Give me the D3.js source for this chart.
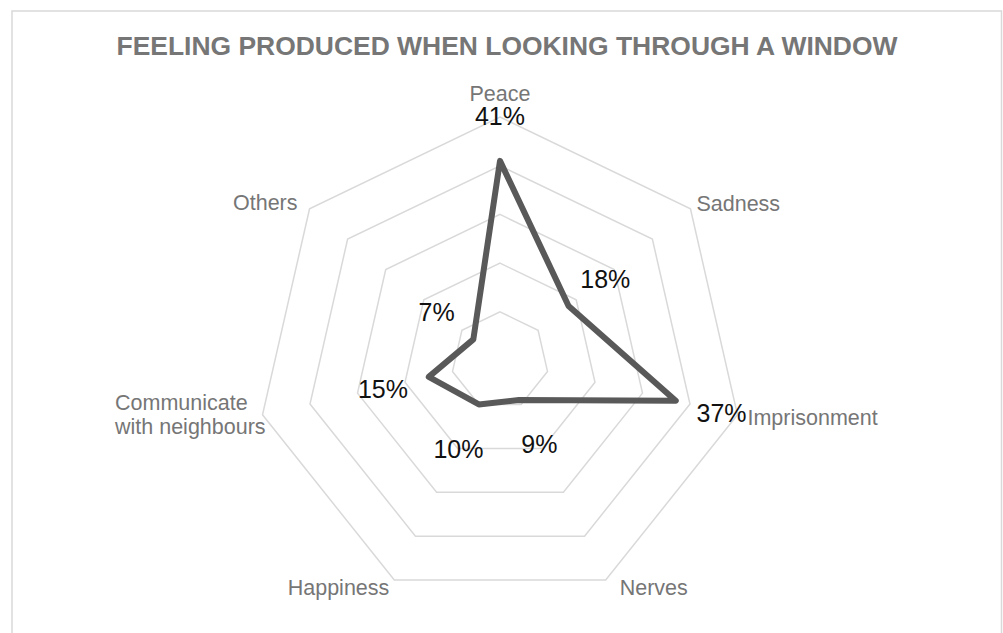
<!DOCTYPE html>
<html>
<head>
<meta charset="utf-8">
<script src="https://cdn.jsdelivr.net/npm/d3@7"></script>
<style>
  html, body { margin: 0; padding: 0; background: #fff; }
  svg { display: block; font-family: "Liberation Sans", Arial, sans-serif; }
</style>
</head>
<body>
<svg id="chart" width="1003" height="633"></svg>
<script>
// Survey answers: feeling produced when looking through a window (%)
const categories = ["Peace", "Sadness", "Imprisonment", "Nerves", "Happiness", "Communicate with neighbours", "Others"];
const values = [41, 18, 37, 9, 10, 15, 7];
const gridTicks = [10, 20, 30, 40, 50];
const titleText = "FEELING PRODUCED WHEN LOOKING THROUGH A WINDOW";

const svg = d3.select("#chart");
const W = 1003, H = 633;
const cx = 500, cy = 360.6, R = 243.6;

// chart frame
svg.append("rect")
  .attr("x", 12).attr("y", 11)
  .attr("width", 989.5).attr("height", H)
  .attr("fill", "#fff").attr("stroke", "#d9d9d9").attr("stroke-width", 1.5);

// title
svg.append("text")
  .attr("x", cx + 7).attr("y", 54.5)
  .attr("text-anchor", "middle")
  .attr("font-size", 25).attr("font-weight", "bold")
  .attr("fill", "#767676")
  .attr("textLength", 781).attr("lengthAdjust", "spacingAndGlyphs")
  .text(titleText);

const r = d3.scaleLinear().domain([0, d3.max(gridTicks)]).range([0, R]);
const step = 2 * Math.PI / categories.length;
const ang = i => i * step - Math.PI / 2;
const pt = (i, rad) => [cx + rad * Math.cos(ang(i)), cy + rad * Math.sin(ang(i))];

// grid rings
const line = d3.line().curve(d3.curveLinearClosed);
svg.append("g").selectAll("path")
  .data(gridTicks)
  .join("path")
  .attr("d", t => line(categories.map((c, i) => pt(i, r(t)))))
  .attr("fill", "none").attr("stroke", "#d9d9d9").attr("stroke-width", 1.5);

// data polygon
svg.append("path")
  .attr("d", line(values.map((v, i) => pt(i, r(v)))))
  .attr("fill", "none").attr("stroke", "#595959")
  .attr("stroke-width", 6).attr("stroke-linejoin", "round");

// value labels, pushed outward along each spoke
svg.append("g").selectAll("text")
  .data(values)
  .join("text")
  .attr("x", (v, i) => pt(i, r(v) + 47)[0])
  .attr("y", (v, i) => pt(i, r(v) + 47)[1] + 2)
  .attr("text-anchor", "middle").attr("dominant-baseline", "central")
  .attr("font-size", 25).attr("fill", "#111")
  .text(v => v + "%");

// category labels around the outer ring
const outer = r(d3.max(gridTicks));
const catLayout = [
  { anchor: "middle", dx: 0, dy: -23 },
  { anchor: "start", dx: 6, dy: -4.5 },
  { anchor: "start", dx: 10, dy: 3 },
  { anchor: "start", dx: 14, dy: 8 },
  { anchor: "end", dx: -5, dy: 8 },
  { anchor: "end", dx: 0, dy: 0 },
  { anchor: "end", dx: -12, dy: -6 }
];
const catG = svg.append("g");
categories.forEach((c, i) => {
  const [x, y] = pt(i, outer);
  const L = catLayout[i];
  const t = catG.append("text")
    .attr("x", x + L.dx).attr("y", y + L.dy)
    .attr("text-anchor", L.anchor).attr("dominant-baseline", "central")
    .attr("font-size", 21.5).attr("fill", "#767676");
  if (c === "Communicate with neighbours") {
    t.attr("text-anchor", "start");
    const x0 = 115;
    t.append("tspan").attr("x", x0).attr("y", y - 12).text("Communicate");
    t.append("tspan").attr("x", x0).attr("y", y + 12).text("with neighbours");
  } else {
    t.text(c);
  }
});
</script>
</body>
</html>
